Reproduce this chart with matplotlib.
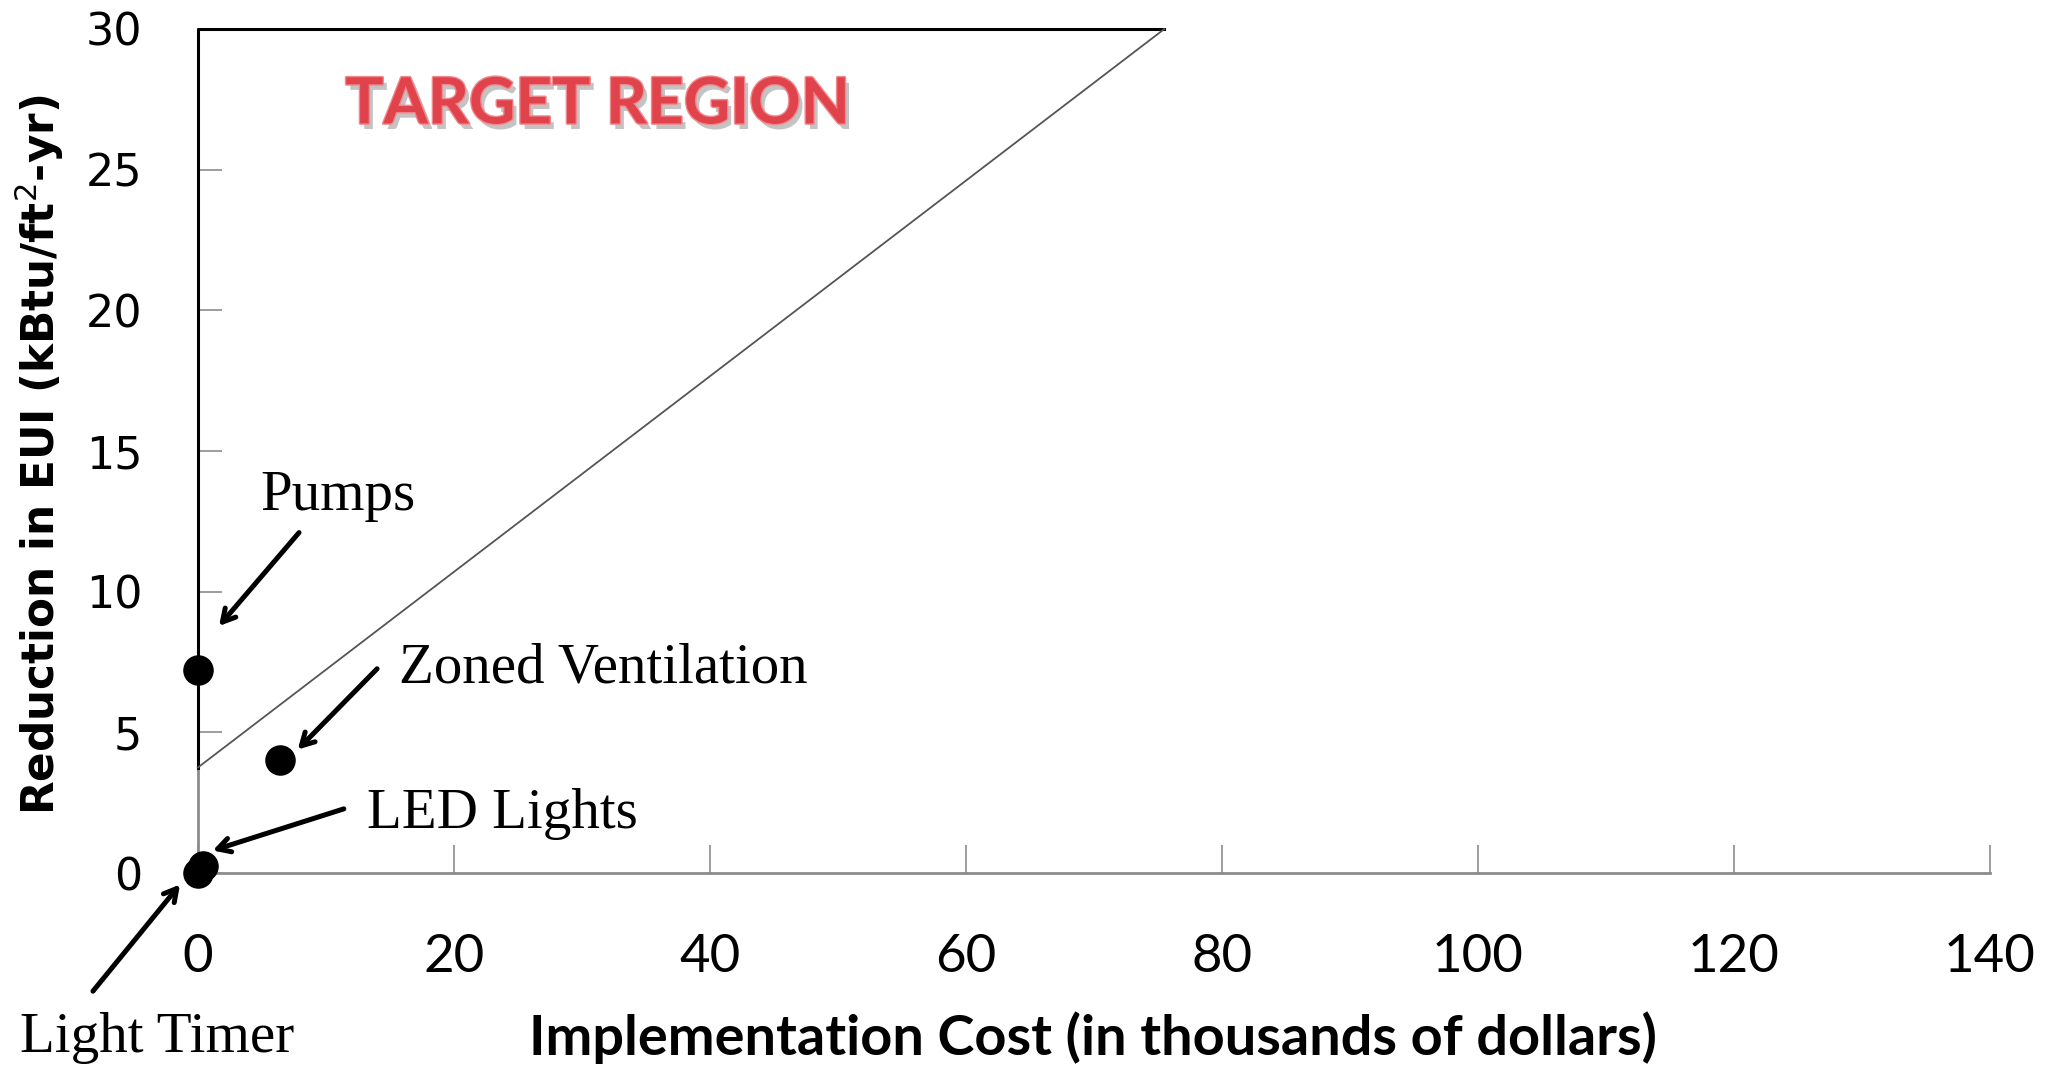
import numpy as np
import matplotlib.pyplot as plt
import matplotlib.patheffects as pe

# measures: implementation cost (k$) vs reduction in EUI
measures = ['Pumps', 'Zoned Ventilation', 'LED Lights', 'Light Timer']
cost = [0.0, 6.4, 0.4, 0.0]
reduction = [7.2, 4.0, 0.25, 0.0]

# target region boundary
region_x = [0.0, 75.5, 0.0]
region_y = [3.75, 30.0, 30.0]

xticks = [0, 20, 40, 60, 80, 100, 120, 140]
yticks = [0, 5, 10, 15, 20, 25, 30]

fig = plt.figure(figsize=(20.53, 10.70), dpi=100)
ax = fig.add_axes([0.0964, 0.1841, 0.8729, 0.7888])

ax.set_xlim(0, 140)
ax.set_ylim(0, 30)

# target region outline: black top/left, thin grey diagonal
ax.plot([region_x[0], region_x[2], region_x[1]],
        [region_y[0], region_y[2], region_y[1]],
        color='black', lw=2.2, clip_on=False, zorder=3)
ax.plot(region_x[:2], region_y[:2], color='#555555', lw=1.3, clip_on=False, zorder=3)

ax.scatter(cost, reduction, s=440, color='black', zorder=5, clip_on=False)

ax.text(31.2, 27.3, 'TARGET REGION', family='Lato', weight='bold', fontsize=46,
        color='#e0434b', ha='center', va='center',
        path_effects=[pe.withSimplePatchShadow(offset=(3, -4), shadow_rgbFace='#888888', alpha=0.5),
                      pe.withStroke(linewidth=2, foreground='#f08a8f')])

# labels and arrows (text pos, arrow tail, arrow tip)
lab_pos = [(4.9, 13.4), (15.7, 7.26), (13.2, 2.1), (-13.9, -5.85)]
tails = [(7.9, 12.1), (14.0, 7.26), (11.4, 2.28), (-8.2, -4.2)]
tips = [(1.65, 8.78), (7.8, 4.39), (1.16, 0.8), (-1.4, -0.41)]

for name, p, t, h in zip(measures, lab_pos, tails, tips):
    ax.text(p[0], p[1], name, family='Liberation Serif', fontsize=41,
            ha='left', va='center', clip_on=False)
    ax.annotate('', xy=h, xytext=t, annotation_clip=False,
                arrowprops=dict(arrowstyle='->,head_length=0.9,head_width=0.5',
                                color='black', lw=3.6, shrinkA=0, shrinkB=0))

for s in ['top', 'right']:
    ax.spines[s].set_visible(False)
ax.spines['bottom'].set_color('#8c8c8c')
ax.spines['bottom'].set_linewidth(2)
ax.spines['left'].set_color('#8c8c8c')
ax.spines['left'].set_linewidth(2)

ax.set_xticks(xticks)
ax.set_yticks(yticks)
ax.tick_params(axis='x', direction='in', length=20, width=1.2, color='#8c8c8c', pad=44)
ax.tick_params(axis='y', direction='in', length=17, width=1.2, color='#8c8c8c', pad=40)
for lb in ax.get_xticklabels():
    lb.set_family('Lato')
    lb.set_fontsize(38)
for lb in ax.get_yticklabels():
    lb.set_family('DejaVu Sans')
    lb.set_fontsize(32)

fig.text(0.5325, 0.030, 'Implementation Cost (in thousands of dollars)', family='Lato',
         weight='bold', fontsize=40.2, ha='center', va='center')
fig.text(0.019, 0.575, 'Reduction in EUI (kBtu/ft$^2$-yr)', family='DejaVu Sans',
         weight='bold', fontsize=31.5, rotation=90, ha='center', va='center')

fig.savefig('out.png', dpi=100)
